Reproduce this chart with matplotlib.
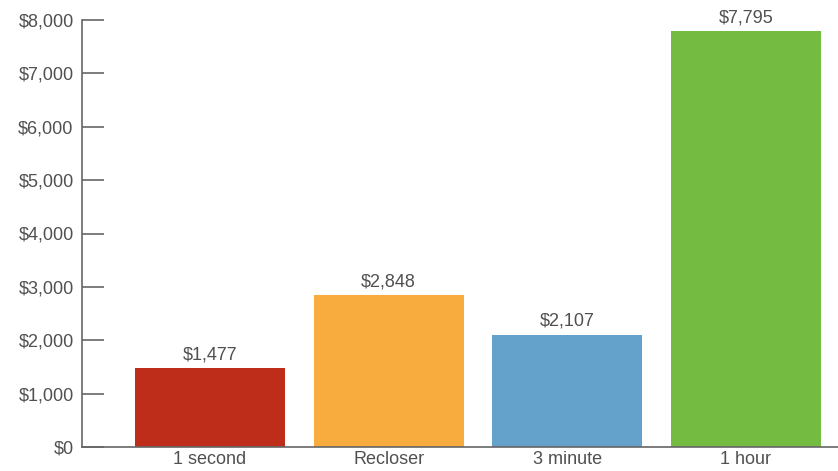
import matplotlib
matplotlib.use("Agg")
import matplotlib.pyplot as plt
from matplotlib.ticker import FuncFormatter

categories = ["1 second", "Recloser", "3 minute", "1 hour"]
costs = [1477, 2848, 2107, 7795]
colors = ["#BE2D1A", "#F8AC3E", "#64A2CB", "#74BB41"]
yticks = [0, 1000, 2000, 3000, 4000, 5000, 6000, 7000, 8000]

plt.rcParams['font.family'] = ['Liberation Sans', 'DejaVu Sans']
txt = "#505050"
axc = "#666666"

fig = plt.figure(figsize=(8.38, 4.71), dpi=100)
ax = fig.add_axes([82 / 838, 24 / 471, 1 - 82 / 838, 427 / 471])

x = range(len(categories))
bars = ax.bar(x, costs, width=0.84, color=colors)
for b, v in zip(bars, costs):
    ax.text(b.get_x() + b.get_width() / 2, v + 90, f"${v:,}",
            ha="center", va="bottom", fontsize=13, color=txt)

ax.set_xlim(-0.716, 3.515)
ax.set_ylim(0, 8000)
ax.set_yticks(yticks)
ax.yaxis.set_major_formatter(FuncFormatter(lambda v, p: f"${int(v):,}"))
ax.set_xticks(list(x))
ax.set_xticklabels(categories)

for s in ["top", "right"]:
    ax.spines[s].set_visible(False)
for s in ["left", "bottom"]:
    ax.spines[s].set_color(axc)
    ax.spines[s].set_linewidth(1.2)

ax.tick_params(axis="y", direction="in", length=16, width=1.2, color=axc,
               labelsize=13, labelcolor=txt, pad=6)
ax.tick_params(axis="x", length=0, labelsize=13, labelcolor=txt, pad=3)

fig.savefig("out.png", dpi=100)
